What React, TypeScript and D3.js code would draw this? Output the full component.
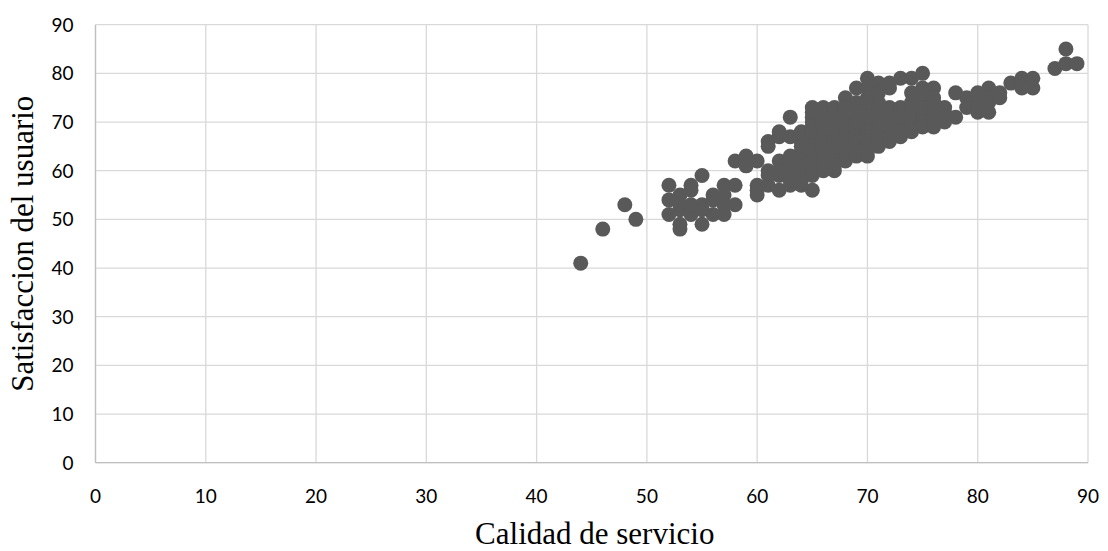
import React, { useEffect, useRef } from "react";
import * as d3 from "d3";

// Calidad de servicio (x) vs Satisfaccion del usuario (y)
const calidad = [
  44, 46, 48, 49,
  52, 52, 52,
  53, 53, 53, 53, 53,
  54, 54, 54, 54,
  55, 55, 55, 55,
  56, 56, 56,
  57, 57, 57, 57,
  58, 58, 58,
  59, 59, 59,
  60, 60, 60, 60,
  61, 61, 61, 61, 61,
  62, 62, 62, 62, 62, 62,
  63, 63, 63, 63, 63, 63, 63, 63, 63,
  64, 64, 64, 64, 64, 64, 64, 64, 64, 64, 64,
  65, 65, 65, 65, 65, 65, 65, 65, 65, 65, 65, 65, 65, 65, 65, 65,
  66, 66, 66, 66, 66, 66, 66, 66, 66, 66, 66, 66, 66, 66,
  67, 67, 67, 67, 67, 67, 67, 67, 67, 67, 67, 67, 67,
  68, 68, 68, 68, 68, 68, 68, 68, 68, 68, 68, 68, 68,
  69, 69, 69, 69, 69, 69, 69, 69, 69, 69, 69, 69,
  70, 70, 70, 70, 70, 70, 70, 70, 70, 70, 70, 70, 70, 70, 70,
  71, 71, 71, 71, 71, 71, 71, 71, 71, 71, 71, 71,
  72, 72, 72, 72, 72, 72, 72, 72, 72, 72,
  73, 73, 73, 73, 73, 73, 73, 73,
  74, 74, 74, 74, 74, 74, 74, 74, 74,
  75, 75, 75, 75, 75, 75, 75, 75, 75, 75,
  76, 76, 76, 76, 76, 76, 76, 76,
  77, 77, 77, 77,
  78, 78,
  79, 79,
  80, 80, 80, 80,
  81, 81, 81, 81,
  82, 82,
  83,
  84, 84, 84,
  85, 85,
  87,
  88, 88,
  89,
];

const satisfaccion = [
  41, 48, 53, 50,
  57, 54, 51,
  55, 52, 49, 48, 53,
  57, 56, 51, 53,
  59, 53, 49, 52,
  55, 51, 54,
  57, 51, 53, 55,
  62, 57, 53,
  63, 62, 61,
  62, 57, 55, 56,
  66, 65, 60, 57, 59,
  67, 68, 62, 56, 60, 59,
  71, 67, 62, 60, 58, 57, 59, 61, 63,
  68, 66, 64, 62, 60, 58, 57, 63, 65, 61, 59,
  73, 71, 70, 69, 67, 65, 63, 61, 59, 56, 60, 62, 64, 66, 68, 72,
  73, 71, 70, 68, 66, 64, 62, 60, 61, 63, 65, 67, 69, 72,
  73, 72, 70, 68, 66, 64, 62, 60, 61, 65, 67, 69, 71,
  75, 73, 70, 68, 66, 65, 63, 62, 64, 67, 69, 71, 72,
  77, 74, 71, 68, 66, 65, 64, 63, 67, 69, 70, 72,
  79, 77, 75, 72, 70, 68, 66, 65, 63, 64, 67, 69, 71, 73, 74,
  78, 76, 74, 72, 70, 68, 66, 65, 67, 69, 71, 73,
  78, 77, 73, 72, 70, 68, 67, 66, 69, 71,
  79, 73, 72, 70, 69, 68, 67, 71,
  79, 76, 74, 72, 70, 69, 68, 71, 73,
  80, 77, 75, 74, 73, 72, 71, 70, 69, 76,
  77, 75, 73, 71, 70, 69, 72, 74,
  73, 72, 71, 70,
  76, 71,
  75, 73,
  76, 74, 73, 72,
  77, 75, 72, 74,
  76, 75,
  78,
  79, 78, 77,
  79, 77,
  81,
  85, 82,
  82,
];

const xTicks = [0, 10, 20, 30, 40, 50, 60, 70, 80, 90];
const yTicks = [0, 10, 20, 30, 40, 50, 60, 70, 80, 90];

const W = 1108;
const H = 551;

const App = () => {
  const svgRef = useRef<SVGSVGElement>(null);

  useEffect(() => {
    const svg = d3.select(svgRef.current);
    svg.selectAll("*").remove();

    const x = d3.scaleLinear().domain([0, 90]).range([95.5, 1088]);
    const y = d3.scaleLinear().domain([0, 90]).range([462.7, 24.7]);

    const grid = svg.append("g");
    grid.selectAll(".hg")
      .data(yTicks)
      .enter().append("line")
      .attr("x1", x(0)).attr("x2", x(90))
      .attr("y1", d => y(d)).attr("y2", d => y(d))
      .attr("stroke", "#d9d9d9").attr("stroke-width", 1.3);
    grid.selectAll(".vg")
      .data(xTicks)
      .enter().append("line")
      .attr("y1", y(0)).attr("y2", y(90))
      .attr("x1", d => x(d)).attr("x2", d => x(d))
      .attr("stroke", "#d9d9d9").attr("stroke-width", 1.3);

    // axis lines
    svg.append("line")
      .attr("x1", x(0)).attr("x2", x(90)).attr("y1", y(0)).attr("y2", y(0))
      .attr("stroke", "#bfbfbf").attr("stroke-width", 1.3);
    svg.append("line")
      .attr("x1", x(0)).attr("x2", x(0)).attr("y1", y(0)).attr("y2", y(90))
      .attr("stroke", "#bfbfbf").attr("stroke-width", 1.3);

    const tickFont = "Lato, 'Open Sans', sans-serif";
    svg.selectAll(".xt")
      .data(xTicks)
      .enter().append("text")
      .attr("x", d => x(d))
      .attr("y", 503)
      .attr("text-anchor", "middle")
      .attr("font-family", tickFont)
      .attr("font-size", 19)
      .attr("fill", "#000")
      .text(d => d);
    svg.selectAll(".yt")
      .data(yTicks)
      .enter().append("text")
      .attr("x", 73.5)
      .attr("y", d => y(d) + 7)
      .attr("text-anchor", "end")
      .attr("font-family", tickFont)
      .attr("font-size", 19)
      .attr("fill", "#000")
      .text(d => d);

    const pts = calidad.map((c, i) => [c, satisfaccion[i]]);
    svg.selectAll(".pt")
      .data(pts)
      .enter().append("circle")
      .attr("cx", d => x(d[0]))
      .attr("cy", d => y(d[1]))
      .attr("r", 7.5)
      .attr("fill", "#595959");

    svg.append("text")
      .attr("x", (x(0) + x(90)) / 2 + 3)
      .attr("y", 544)
      .attr("text-anchor", "middle")
      .attr("font-family", "'Liberation Serif', 'Times New Roman', serif")
      .attr("font-size", 31)
      .attr("fill", "#000")
      .text("Calidad de servicio");

    svg.append("text")
      .attr("transform", `translate(33,${(y(0) + y(90)) / 2}) rotate(-90)`)
      .attr("text-anchor", "middle")
      .attr("font-family", "'Liberation Serif', 'Times New Roman', serif")
      .attr("font-size", 31)
      .attr("fill", "#000")
      .text("Satisfaccion del usuario");
  }, []);

  return (
    <svg
      ref={svgRef}
      width={W}
      height={H}
      style={{ position: "absolute", left: 0, top: 0, background: "#fff" }}
    />
  );
};

export default App;
